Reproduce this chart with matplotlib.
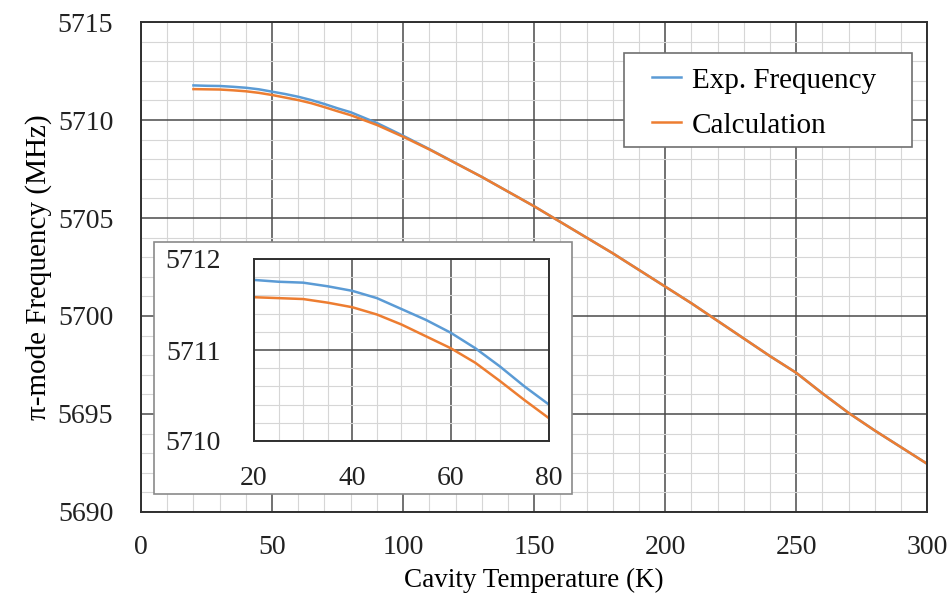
import numpy as np
import matplotlib.pyplot as plt
from matplotlib.patches import Rectangle
from matplotlib.ticker import MultipleLocator

plt.rcParams['font.family'] = ['Liberation Serif', 'DejaVu Serif']

# temperature sweep (K) and pi-mode frequency (MHz)
temp = [20, 25, 30, 35, 40, 45, 50, 55, 60, 65, 70, 75, 80, 90, 100,
        110, 120, 130, 140, 150, 160, 170, 180, 190, 200,
        210, 220, 230, 240, 250, 260, 270, 280, 290, 300]
calc = [5711.58, 5711.57, 5711.56, 5711.52, 5711.47, 5711.39, 5711.28,
        5711.15, 5711.02, 5710.86, 5710.66, 5710.45, 5710.25, 5709.75,
        5709.15, 5708.50, 5707.80, 5707.10, 5706.35, 5705.60, 5704.80,
        5704.00, 5703.20, 5702.35, 5701.50, 5700.65, 5699.75, 5698.85,
        5697.95, 5697.10, 5696.05, 5695.05, 5694.15, 5693.30, 5692.45]
exp_freq = [5711.77, 5711.75, 5711.74, 5711.70, 5711.65, 5711.57, 5711.45,
            5711.33, 5711.19, 5711.02, 5710.82, 5710.60, 5710.40, 5709.85,
            5709.20, 5708.52, 5707.81, 5707.10, 5706.35, 5705.60, 5704.80,
            5704.00, 5703.20, 5702.35, 5701.50, 5700.65, 5699.75, 5698.85,
            5697.95, 5697.10, 5696.05, 5695.05, 5694.15, 5693.30, 5692.45]

c_exp = '#5b9bd5'
c_calc = '#ed7d31'


def style_grid(ax):
    ax.grid(which='major', color='#4a4a4a', lw=1.1)
    ax.grid(which='minor', color='#d6d6d6', lw=0.8)
    ax.set_axisbelow(True)
    for s in ax.spines.values():
        s.set_color('#303030')
        s.set_linewidth(1.4)
    ax.tick_params(which='both', length=0, labelsize=20, colors='#222222')


fig = plt.figure(figsize=(9.53, 5.98), dpi=100)
ax = fig.add_axes([0.148, 0.144, 0.825, 0.819])
ax.plot(temp, exp_freq, color=c_exp, lw=1.8, label='Exp. Frequency')
ax.plot(temp, calc, color=c_calc, lw=1.8, label='Calculation')
ax.set_xlim(0, 300)
ax.set_ylim(5690, 5715)
ax.xaxis.set_major_locator(MultipleLocator(50))
ax.xaxis.set_minor_locator(MultipleLocator(10))
ax.yaxis.set_major_locator(MultipleLocator(5))
ax.yaxis.set_minor_locator(MultipleLocator(1))
style_grid(ax)
ax.tick_params(axis='y', pad=20)
ax.tick_params(axis='x', pad=17)
ax.set_xlabel('Cavity Temperature (K)', fontsize=19.5, labelpad=5)
ax.set_ylabel('π-mode Frequency (MHz)', fontsize=21, labelpad=4)

# legend box drawn separately so its padding can be set freely
ax.add_patch(Rectangle(((624 - 141) / 786, (512 - 147) / 490),
                       288 / 786, 94 / 490, transform=ax.transAxes,
                       facecolor='white', edgecolor='#707070', lw=1.2,
                       zorder=4))
leg = ax.legend(loc='upper left', bbox_to_anchor=((652 - 141) / 786,
                                                  (512 - 67) / 490),
                fontsize=21, handlelength=1.0, handletextpad=0.35,
                borderpad=0, labelspacing=0.64, frameon=False,
                borderaxespad=0)
leg.set_zorder(5)

# white panel behind the zoomed inset
fig.patches.append(Rectangle((154 / 953, 1 - 494 / 598), 418 / 953, 252 / 598,
                             transform=fig.transFigure, facecolor='white',
                             edgecolor='#8a8a8a', lw=1.2, zorder=5))

ins = fig.add_axes([254 / 953, 1 - 441 / 598, 295 / 953, 182 / 598], zorder=6)
ins.plot(temp, calc, color=c_calc, lw=1.8)
ins.plot(temp, exp_freq, color=c_exp, lw=1.8)
ins.set_xlim(20, 80)
ins.set_ylim(5710, 5712)
ins.xaxis.set_major_locator(MultipleLocator(20))
ins.xaxis.set_minor_locator(MultipleLocator(5))
ins.yaxis.set_major_locator(MultipleLocator(1))
ins.yaxis.set_minor_locator(MultipleLocator(0.2))
style_grid(ins)
ins.tick_params(axis='y', pad=24)
ins.tick_params(axis='x', pad=18)

fig.savefig('out.png', dpi=100)
